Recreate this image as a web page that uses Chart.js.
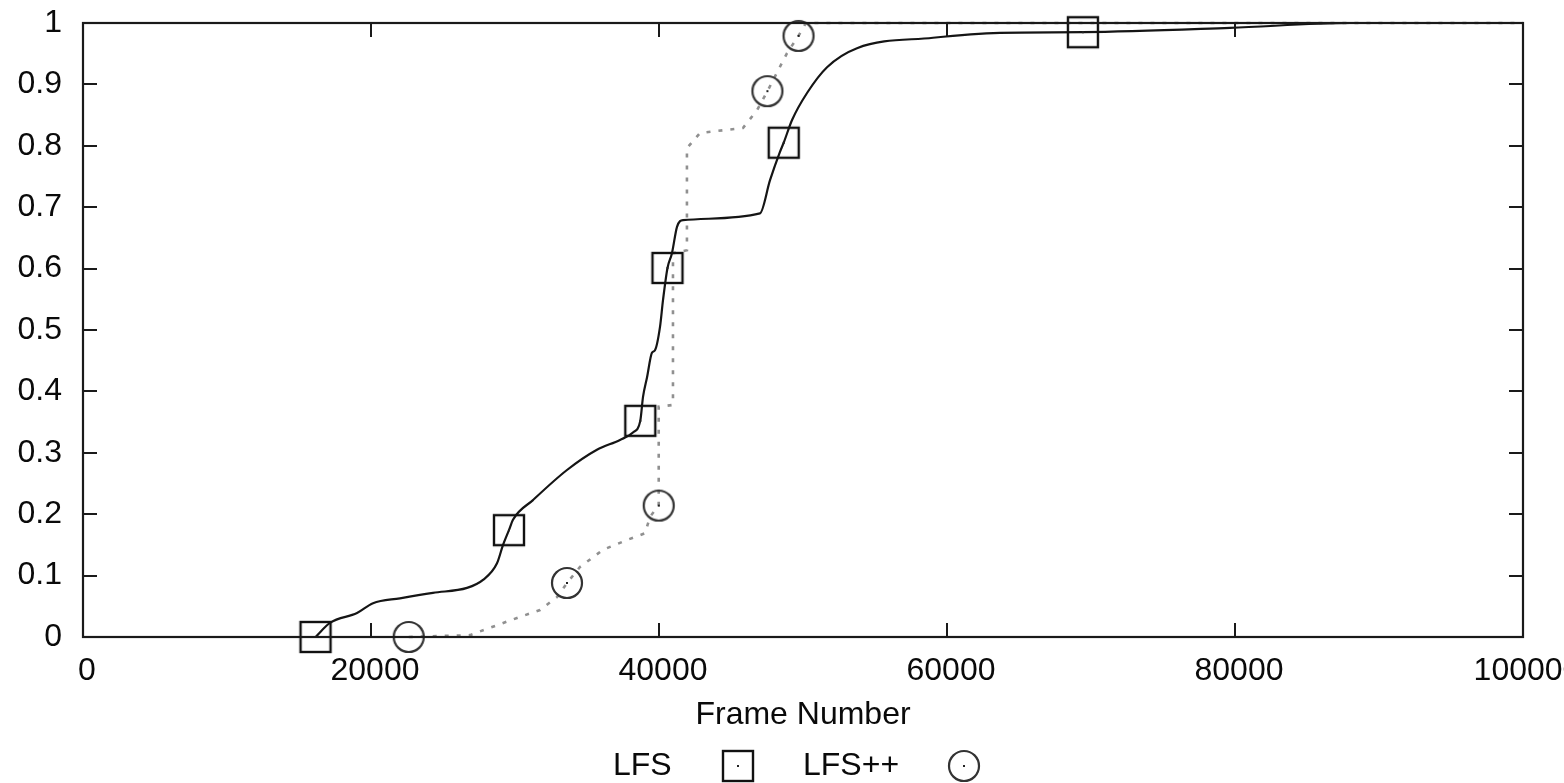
<!DOCTYPE html>
<html><head><meta charset="utf-8">
<script src="https://cdn.jsdelivr.net/npm/chart.js@4.4.0/dist/chart.umd.min.js"></script>
<style>html,body{margin:0;padding:0;background:#fff;overflow:hidden}canvas{display:block}</style>
</head><body>
<canvas id="c" width="1564" height="783"></canvas>
<script>
const seriesNames = ['LFS', 'LFS++'];
const axisTitle = 'Frame Number';
const xTickLabels = ['0', '20000', '40000', '60000', '80000', '100000'];
const yTickLabels = ['0', '0.1', '0.2', '0.3', '0.4', '0.5', '0.6', '0.7', '0.8', '0.9', '1'];

const lfsX = [16150, 17150, 19030, 20140, 22010, 24300, 26670, 27780, 28750, 29170, 29580, 29860, 31250, 33610, 35690, 37290, 38190, 38700, 38890, 39170, 39510, 39720, 40070, 40280, 40590, 40900, 41250, 41670, 47010, 47710, 48400, 48660, 49240, 50280, 51670, 53750, 59030, 63680, 69440, 79650, 88000, 100000];
const lfsY = [0, 0.023, 0.039, 0.055, 0.063, 0.072, 0.080, 0.093, 0.120, 0.150, 0.174, 0.191, 0.223, 0.272, 0.305, 0.321, 0.333, 0.352, 0.391, 0.423, 0.463, 0.467, 0.505, 0.549, 0.601, 0.625, 0.668, 0.679, 0.690, 0.744, 0.790, 0.805, 0.842, 0.886, 0.928, 0.959, 0.976, 0.984, 0.985, 0.992, 1.0, 1.0];
const lfsMarks = [0, 10, 17, 24, 31, 38];

const lfsppX = [22620, 26870, 27780, 30140, 31740, 32920, 33610, 34510, 36110, 37780, 39030, 39380, 39980, 39980, 40970, 40970, 41940, 41940, 42850, 45830, 46810, 47530, 48890, 49690, 50200, 100000];
const lfsppY = [0, 0.003, 0.011, 0.031, 0.044, 0.065, 0.088, 0.114, 0.142, 0.158, 0.169, 0.196, 0.214, 0.375, 0.378, 0.625, 0.630, 0.796, 0.821, 0.829, 0.858, 0.889, 0.951, 0.979, 1.0, 1.0];
const lfsppMarks = [0, 6, 12, 21, 23];

const FONT = '"Liberation Sans", Arial, Helvetica, sans-serif';
const FS = 32;
const TXT = '#0a0a0a';

function makeMarker(kind) {
  const s = 36, c = document.createElement('canvas');
  c.width = s; c.height = s;
  const g = c.getContext('2d');
  g.lineWidth = 2.4;
  if (kind === 'square') {
    g.strokeStyle = '#111';
    g.strokeRect(3, 3, 30, 30);
  } else {
    g.strokeStyle = '#333';
    g.lineWidth = 2.2;
    g.beginPath(); g.arc(18, 18, 15, 0, Math.PI * 2); g.stroke();
  }
  g.fillStyle = '#222';
  g.fillRect(17, 17, 2, 2);
  return c;
}
const squareImg = makeMarker('square');
const circleImg = makeMarker('circle');

function pts(xs, ys) { return xs.map((x, i) => ({x: x, y: ys[i]})); }

const framePlugin = {
  id: 'frame',
  afterDatasetsDraw(chart) {
    const {ctx, chartArea: a, scales} = chart;
    ctx.save();
    ctx.strokeStyle = '#1a1a1a';
    ctx.lineWidth = 2.2;
    ctx.strokeRect(a.left, a.top, a.right - a.left, a.bottom - a.top);
    const L = 14;
    ctx.lineWidth = 2;
    ctx.beginPath();
    scales.x.ticks.forEach(t => {
      const px = Math.round(scales.x.getPixelForValue(t.value));
      ctx.moveTo(px, a.bottom); ctx.lineTo(px, a.bottom - L);
      ctx.moveTo(px, a.top); ctx.lineTo(px, a.top + L);
    });
    scales.y.ticks.forEach(t => {
      const py = Math.round(scales.y.getPixelForValue(t.value));
      ctx.moveTo(a.left, py); ctx.lineTo(a.left + L, py);
      ctx.moveTo(a.right, py); ctx.lineTo(a.right - L, py);
    });
    ctx.stroke();
    ctx.restore();
  }
};

const keyPlugin = {
  id: 'key',
  afterDraw(chart) {
    const ctx = chart.ctx;
    const y = 766;
    ctx.save();
    ctx.font = FS + 'px ' + FONT;
    ctx.fillStyle = TXT;
    ctx.textBaseline = 'middle';
    ctx.textAlign = 'left';
    const items = [
      {text: chart.data.datasets[0].label, tx: 613, img: squareImg, mx: 738},
      {text: chart.data.datasets[1].label, tx: 803, img: circleImg, mx: 964}
    ];
    items.forEach(it => {
      ctx.fillText(it.text, it.tx, y);
      ctx.drawImage(it.img, it.mx - 18, y - 18);
    });
    ctx.restore();
  }
};

new Chart(document.getElementById('c'), {
  type: 'line',
  data: {
    datasets: [
      {
        label: seriesNames[0],
        data: pts(lfsX, lfsY),
        borderColor: '#151515',
        borderWidth: 2.2,
        cubicInterpolationMode: 'monotone',
        pointStyle: squareImg,
        pointRadius: ctx => lfsMarks.includes(ctx.dataIndex) ? 15 : 0,
        pointHoverRadius: 0,
        clip: false,
        fill: false
      },
      {
        label: seriesNames[1],
        data: pts(lfsppX, lfsppY),
        borderColor: '#909090',
        borderWidth: 2.6,
        borderDash: [4, 8],
        tension: 0,
        pointStyle: circleImg,
        pointRadius: ctx => lfsppMarks.includes(ctx.dataIndex) ? 15 : 0,
        pointHoverRadius: 0,
        clip: false,
        fill: false
      }
    ]
  },
  options: {
    responsive: false,
    animation: false,
    events: [],
    layout: {autoPadding: false, padding: {left: 0, top: 23, right: 41, bottom: 49}},
    plugins: {legend: {display: false}, tooltip: {enabled: false}},
    scales: {
      x: {
        type: 'linear', min: 0, max: 100000,
        grid: {display: false},
        border: {display: false},
        ticks: {
          stepSize: 20000, autoSkip: false, maxRotation: 0, padding: 7, labelOffset: 4,
          color: TXT, font: {family: FONT, size: FS, lineHeight: 1.2},
          callback: (v, i) => xTickLabels[i]
        },
        title: {display: true, text: axisTitle, color: TXT, padding: 0,
          font: {family: FONT, size: FS, lineHeight: 1.2}},
        afterFit: s => { s.height = 97; s.paddingLeft = 0; s.paddingRight = 0; s.paddingTop = 0; s.paddingBottom = 0; }
      },
      y: {
        type: 'linear', min: 0, max: 1,
        grid: {display: false},
        border: {display: false},
        ticks: {
          stepSize: 0.1, autoSkip: false, padding: 13,
          color: TXT, font: {family: FONT, size: FS, lineHeight: 1.2},
          callback: (v, i) => yTickLabels[i]
        },
        afterFit: s => { s.width = 83; s.paddingLeft = 0; s.paddingRight = 0; s.paddingTop = 0; s.paddingBottom = 0; }
      }
    }
  },
  plugins: [framePlugin, keyPlugin]
});
</script>
</body></html>
